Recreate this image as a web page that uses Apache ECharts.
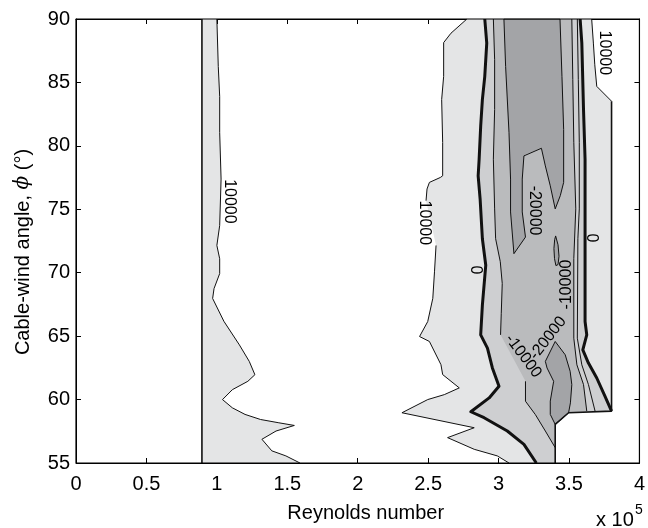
<!DOCTYPE html>
<html>
<head>
<meta charset="utf-8">
<script src="https://cdn.jsdelivr.net/npm/echarts@6/dist/echarts.min.js"></script>
<style>
html,body{margin:0;padding:0;background:#fff;}
#chart{width:648px;height:528px;}
</style>
</head>
<body>
<div id="chart"></div>
<script>
// ---------------- data (Reynolds number in units of 1e5, angle in degrees) ----------------
const reRange = [0, 4];
const reStep = 0.5;
const angRange = [55, 90];
const angStep = 5;

// boundaries of the measured region
const dataEdgeLeft = [[0.894,55],[0.894,90]];
const dataEdgeRight = [[3.402,55],[3.402,58.04],[3.497,58.96],[3.802,59.09],[3.802,83.52]];

// 10000 contour, left branch
const contour10kLeft = [[1.00,90],[1.01,86.26],[1.02,83.9],[1.02,81.06],[1.03,77.38],[1.02,73.72],[1.00,72.15],[1.02,71.1],[1.02,69.93],[0.98,68.75],[0.97,67.97],[1.05,66.17],[1.16,64.31],[1.23,63.01],[1.27,61.96],[1.22,61.44],[1.11,60.78],[1.04,60.0],[1.11,59.35],[1.20,58.83],[1.31,58.43],[1.44,58.17],[1.55,57.96],[1.42,57.52],[1.32,56.87],[1.39,55.96],[1.49,55.56],[1.59,55.0]];
// 10000 contour, middle branch (broken at its label)
const contour10kMidUpper = [[2.775,90],[2.662,88.88],[2.61,88.14],[2.61,85.48],[2.596,83.65],[2.603,80.26],[2.603,77.64],[2.587,77.51],[2.509,77.12],[2.492,76.6],[2.485,75.68]];
const contour10kMidLower = [[2.556,72.15],[2.545,70.07],[2.533,67.98],[2.497,66.15],[2.439,64.97],[2.509,64.58],[2.591,62.75],[2.603,61.97],[2.721,60.92],[2.615,60.39],[2.497,60.0],[2.314,58.96],[2.827,57.78],[2.638,57.0],[2.827,56.08],[2.991,55.56],[3.074,55.0]];
// 10000 contour, top right
const contour10kTopRight = [[3.661,90],[3.673,88.1],[3.683,86.39],[3.697,84.69],[3.802,83.52]];
// 0 contour (thick)
const contour0Left = [[2.902,90],[2.916,88.1],[2.902,85.48],[2.885,83.65],[2.873,81.56],[2.862,78.95],[2.855,77.64],[2.869,75.81],[2.885,72.68],[2.909,70.59],[2.885,67.45],[2.873,65.1],[2.921,64.05],[2.956,62.49],[3.003,61.05],[2.933,60.13],[2.803,59.04],[2.897,58.57],[3.062,57.52],[3.18,56.47],[3.268,55.0]];
const contour0Right = [[3.579,90],[3.591,88.1],[3.603,82.87],[3.614,78.95],[3.614,73.72],[3.614,70.09],[3.614,66.15],[3.626,65.1],[3.598,63.92],[3.638,62.88],[3.697,61.7],[3.755,60.27],[3.802,59.09]];
// -10000 contours
const contourM10kLeftUpper = [[2.963,90],[2.972,86.79],[2.972,82.87],[2.963,78.95],[2.972,75.03],[2.979,72.68],[3.012,70.87],[3.026,69.15],[3.019,66.8],[3.014,65.1]];
const contourM10kLeftLower = [[3.191,61.44],[3.191,59.87],[3.261,58.82],[3.332,57.52],[3.402,56.21]];
const contourM10kRightA = [[3.52,90],[3.527,85.22],[3.534,80.28],[3.548,75.03],[3.534,71.11],[3.534,64.84],[3.556,62.74],[3.603,61.18],[3.626,59.09]];
const contourM10kRightB = [[3.559,90],[3.566,85.22],[3.573,80.28],[3.573,75.03],[3.563,72.68],[3.559,64.84],[3.591,62.74],[3.638,61.18],[3.685,59.09]];
// -20000 contours (closed)
const contourM20kMain = [[3.038,90],[3.05,86.26],[3.074,81.04],[3.085,77.38],[3.085,74.79],[3.109,71.5],[3.191,72.81],[3.168,74.79],[3.168,77.38],[3.18,79.21],[3.191,79.34],[3.304,79.81],[3.332,78.42],[3.367,76.85],[3.402,75.03],[3.438,76.07],[3.462,77.12],[3.462,81.3],[3.45,85.48],[3.436,90]];
const contourM20kLower = [[3.402,64.58],[3.332,63.01],[3.344,62.49],[3.391,61.44],[3.367,59.88],[3.367,58.83],[3.402,58.04],[3.497,58.96],[3.51,59.74],[3.52,61.18],[3.508,62.23],[3.473,63.53]];
const contourM20kIsland = [[3.405,72.9],[3.422,72.2],[3.429,71.3],[3.422,70.64],[3.407,70.56],[3.397,71.11],[3.393,71.9],[3.398,72.6]];

// contour labels: text, Reynolds number, angle
const contourLabels = [
  ['10000', 1.09, 75.62],
  ['10000', 2.476, 73.93],
  ['10000', 3.75, 87.33],
  ['0', 2.836, 70.21],
  ['0', 3.661, 72.75],
  ['-20000', 3.256, 74.9],
  ['-10000', 3.485, 69.07],
  ['-20000', 3.351, 64.84],
  ['-10000', 3.175, 63.43]
];
const contourLabelAngles = [-90, -90, -90, -90, -90, -90, 90, 52, -53];

// ---------------- build fills from the contour data ----------------
const rev = a => a.slice().reverse();
const fillLevels = [
  { color: '#e4e5e6', polys: [
      [[dataEdgeLeft[1][0], angRange[1]], ...contour10kLeft, [dataEdgeLeft[0][0], angRange[0]]],
      [...contour10kMidUpper, ...contour10kMidLower, ...dataEdgeRight, ...rev(contour10kTopRight)]
  ]},
  { color: '#cecfd1', polys: [
      [...contour0Left, ...dataEdgeRight.slice(0,4), ...rev(contour0Right)]
  ]},
  { color: '#babbbd', polys: [
      [...contourM10kLeftUpper, ...contourM10kLeftLower, dataEdgeRight[1], dataEdgeRight[2], ...rev(contourM10kRightA)]
  ]},
  { color: '#a3a4a7', polys: [contourM20kMain, contourM20kLower, contourM20kIsland] }
];

const FONT = '"Liberation Sans", Arial, Helvetica, sans-serif';
const series = [];

fillLevels.forEach((lvl, li) => {
  series.push({
    type: 'custom',
    coordinateSystem: 'cartesian2d',
    silent: true,
    z: 1 + li * 0.01,
    data: lvl.polys.map(p => ({ value: [p[0][0], p[0][1]] })),
    renderItem: (params, api) => {
      const pts = lvl.polys[params.dataIndex].map(pt => api.coord(pt));
      return { type: 'polygon', shape: { points: pts }, style: { fill: lvl.color } };
    }
  });
});

function lineSeries(pts, width, closed) {
  const d = closed ? pts.concat([pts[0]]) : pts;
  return {
    type: 'line', data: d, symbol: 'none', showSymbol: false, silent: true, z: 3,
    lineStyle: { color: '#111', width: width, join: 'round' }, clip: true
  };
}
[contour10kLeft, contour10kMidUpper, contour10kMidLower, contour10kTopRight,
 contourM10kLeftUpper, contourM10kLeftLower, contourM10kRightA, contourM10kRightB
].forEach(c => series.push(lineSeries(c, 1, false)));
[contourM20kMain, contourM20kLower, contourM20kIsland].forEach(c => series.push(lineSeries(c, 1, true)));
[contour0Left, contour0Right].forEach(c => series.push(lineSeries(c, 3, false)));
[dataEdgeLeft, dataEdgeRight].forEach(c => series.push(lineSeries(c, 1.6, false)));

// frame on top (axis extents)
series.push({
  type: 'line', symbol: 'none', silent: true, z: 6, clip: false,
  data: [[reRange[0],angRange[0]],[reRange[1],angRange[0]],[reRange[1],angRange[1]],[reRange[0],angRange[1]],[reRange[0],angRange[0]]],
  lineStyle: { color: '#000', width: 1.2 }
});

// contour labels
series.push({
  type: 'custom', coordinateSystem: 'cartesian2d', silent: true, z: 5,
  data: contourLabels.map(l => ({ value: [l[1], l[2]] })),
  renderItem: (params, api) => {
    const l = contourLabels[params.dataIndex];
    const p = api.coord([l[1], l[2]]);
    return {
      type: 'text', x: p[0], y: p[1],
      rotation: contourLabelAngles[params.dataIndex] * Math.PI / 180,
      style: { text: l[0], fontSize: 16, fontFamily: FONT, fill: '#000', align: 'center', verticalAlign: 'middle' }
    };
  }
});

const tickStyle = { inside: true, length: 5, lineStyle: { color: '#000', width: 1 } };
const chart = echarts.init(document.getElementById('chart'), null, { renderer: 'canvas' });
chart.setOption({
  animation: false,
  backgroundColor: '#fff',
  grid: { left: 76, right: 5, top: 19, bottom: 62.5 },
  xAxis: [
    { type: 'value', position: 'bottom', min: reRange[0], max: reRange[1], interval: reStep,
      axisLine: { show: true, onZero: false, lineStyle: { color: '#000' } },
      axisTick: tickStyle, splitLine: { show: false },
      axisLabel: { fontSize: 20, color: '#000', fontFamily: FONT, margin: 11 },
      name: 'Reynolds number', nameLocation: 'middle', nameGap: 40,
      nameTextStyle: { fontSize: 20, color: '#000', fontFamily: FONT, padding: [0, 0, 0, 16] } },
    { type: 'value', position: 'top', min: reRange[0], max: reRange[1], interval: reStep,
      axisLine: { show: true, onZero: false, lineStyle: { color: '#000' } },
      axisTick: tickStyle, splitLine: { show: false }, axisLabel: { show: false } }
  ],
  yAxis: [
    { type: 'value', position: 'left', min: angRange[0], max: angRange[1], interval: angStep,
      axisLine: { show: true, onZero: false, lineStyle: { color: '#000' } },
      axisTick: tickStyle, splitLine: { show: false },
      axisLabel: { fontSize: 20, color: '#000', fontFamily: FONT, margin: 6 },
      name: 'Cable-wind angle, {phi|ϕ} (°)', nameLocation: 'middle', nameGap: 43,
      nameTextStyle: { fontSize: 20, color: '#000', fontFamily: FONT, padding: [0, 22, 0, 0],
        rich: { phi: { fontSize: 20, fontStyle: 'italic', fontFamily: '"DejaVu Serif", serif', color: '#000' } } } },
    { type: 'value', position: 'right', min: angRange[0], max: angRange[1], interval: angStep,
      axisLine: { show: true, onZero: false, lineStyle: { color: '#000' } },
      axisTick: tickStyle, splitLine: { show: false }, axisLabel: { show: false } }
  ],
  graphic: [
    { type: 'text', x: 596, y: 520, style: { text: 'x 10', fontSize: 20, fontFamily: FONT, fill: '#000', align: 'left', verticalAlign: 'middle' } },
    { type: 'text', x: 635, y: 510, style: { text: '5', fontSize: 14, fontFamily: FONT, fill: '#000', align: 'left', verticalAlign: 'middle' } }
  ],
  series: series
});
</script>
</body>
</html>
